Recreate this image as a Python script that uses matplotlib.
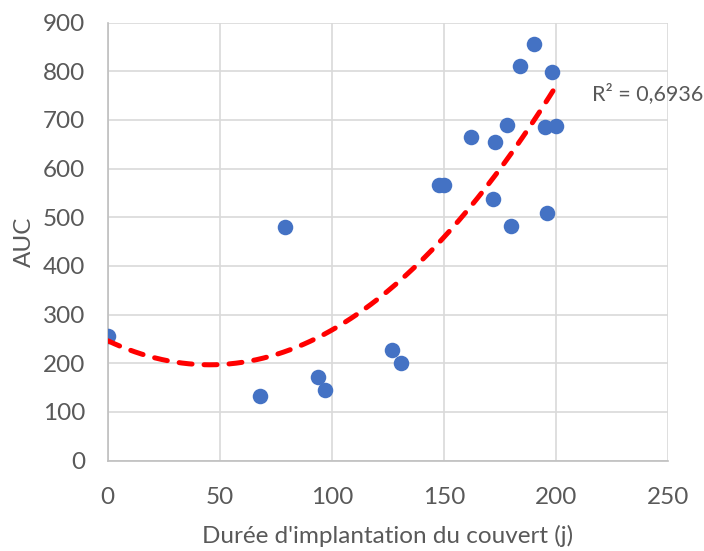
import numpy as np
import matplotlib
matplotlib.use("Agg")
import matplotlib.pyplot as plt

# data
duree = [0, 68, 79, 94, 97, 127, 131, 148, 150, 162, 172, 173, 178,
         180, 184, 190, 195, 196, 198, 200]
auc = [257, 133, 479, 171, 145, 227, 200, 566, 566, 665, 538, 655, 690,
       482, 811, 857, 686, 508, 799, 688]
r2_label = "R² = 0,6936"

plt.rcParams['font.family'] = ['Lato', 'DejaVu Sans']

fig = plt.figure(figsize=(7.04, 5.51), dpi=100)
ax = fig.add_axes([0.153, 0.164, 0.796, 0.795])

ax.scatter(duree, auc, s=125, c='#4472C4', zorder=3, linewidths=0)

# polynomial trend (order 2)
coef = np.polyfit(duree, auc, 2)
xs = np.linspace(min(duree), max(duree), 200)
ax.plot(xs, np.polyval(coef, xs), color='#FF0000', lw=3.6,
        dashes=(2.6, 2.4), zorder=4, dash_capstyle='round')

ax.text(216, 755, r2_label, fontsize=15.5, color='#595959', va='center')

ax.set_xlim(0, 250)
ax.set_ylim(0, 900)
ax.set_xticks(np.arange(0, 251, 50))
ax.set_yticks(np.arange(0, 901, 100))
ax.grid(True, color='#D9D9D9', lw=1.2)
ax.set_axisbelow(True)
for s in ['top', 'right']:
    ax.spines[s].set_visible(False)
for s in ['left', 'bottom']:
    ax.spines[s].set_color('#BFBFBF')
    ax.spines[s].set_linewidth(1.2)
ax.tick_params(length=0, labelsize=17.5, colors='#595959')
ax.tick_params(axis='y', pad=16)
ax.tick_params(axis='x', pad=19)
ax.set_xlabel("Durée d'implantation du couvert (j)", fontsize=17.5,
              color='#595959', labelpad=12)
ax.set_ylabel("AUC", fontsize=17.5, color='#595959', labelpad=6)

fig.savefig("out.png", dpi=100)
